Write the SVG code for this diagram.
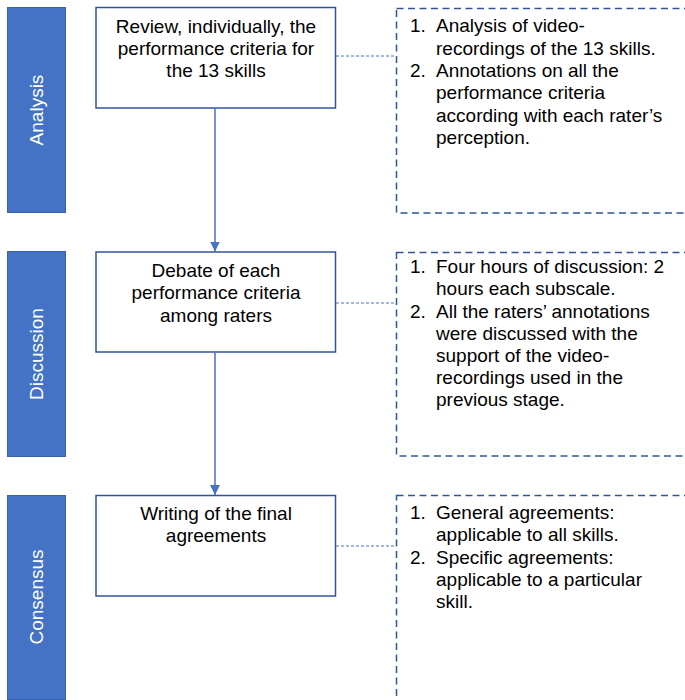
<svg xmlns="http://www.w3.org/2000/svg" width="685" height="700" viewBox="0 0 685 700">
<style>
.bar{fill:#4472C4;stroke:#3A62A8;stroke-width:1}
.bartxt{fill:#fff;font-family:"Liberation Sans",Arial,sans-serif;font-size:19px;text-anchor:middle}
.box{fill:#fff;stroke:#2F5597;stroke-width:1.5}
.note{fill:none;stroke:#2F5597;stroke-width:1.5;stroke-dasharray:7 4.5}
.txt{fill:#000;font-family:"Liberation Sans",Arial,sans-serif;font-size:19px}
.c{text-anchor:middle}
.link{stroke:#4472C4;stroke-width:1;stroke-dasharray:3 2;fill:none}
.arrow{stroke:#4472C4;stroke-width:1.5;fill:none}
</style>
<defs>
<marker id="ah" viewBox="0 0 10 10" refX="10" refY="5" markerWidth="10" markerHeight="11" orient="auto" markerUnits="userSpaceOnUse">
<path d="M0,0 L10,5 L0,10 Z" fill="#4472C4"/>
</marker>
</defs>
<g id="bar-analysis">
<rect class="bar" x="7.5" y="7.5" width="58" height="205"/>
<text class="bartxt" transform="translate(43,110) rotate(-90)">Analysis</text>
</g>
<g id="bar-discussion">
<rect class="bar" x="7.5" y="251.5" width="58" height="205"/>
<text class="bartxt" transform="translate(43,354) rotate(-90)">Discussion</text>
</g>
<g id="bar-consensus">
<rect class="bar" x="7.5" y="495.5" width="58" height="204"/>
<text class="bartxt" transform="translate(43,597) rotate(-90)">Consensus</text>
</g>
<g id="box-review">
<rect class="box" x="96" y="7.5" width="239.5" height="100.5"/>
<text class="txt c" x="216" y="33">Review, individually, the</text>
<text class="txt c" x="216" y="55">performance criteria for</text>
<text class="txt c" x="216" y="77">the 13 skills</text>
</g>
<g id="box-debate">
<rect class="box" x="96" y="252" width="239.5" height="100"/>
<text class="txt c" x="216" y="277">Debate of each</text>
<text class="txt c" x="216" y="299">performance criteria</text>
<text class="txt c" x="216" y="321.5">among raters</text>
</g>
<g id="box-writing">
<rect class="box" x="96" y="495.5" width="239.5" height="100.5"/>
<text class="txt c" x="216" y="520">Writing of the final</text>
<text class="txt c" x="216" y="542">agreements</text>
</g>
<g id="note-analysis">
<rect class="note" x="396.5" y="8.5" width="300" height="204.5"/>
<text class="txt" x="410" y="32">1.</text>
<text class="txt" x="436" y="32">Analysis of video-</text>
<text class="txt" x="436" y="54.5">recordings of the 13 skills.</text>
<text class="txt" x="410" y="77">2.</text>
<text class="txt" x="436" y="77">Annotations on all the</text>
<text class="txt" x="436" y="99">performance criteria</text>
<text class="txt" x="436" y="121.5">according with each rater’s</text>
<text class="txt" x="436" y="143.5">perception.</text>
</g>
<g id="note-discussion">
<rect class="note" x="396.5" y="252.5" width="300" height="203.5"/>
<text class="txt" x="410" y="273">1.</text>
<text class="txt" x="436" y="273">Four hours of discussion: 2</text>
<text class="txt" x="436" y="295">hours each subscale.</text>
<text class="txt" x="410" y="317.5">2.</text>
<text class="txt" x="436" y="317.5">All the raters’ annotations</text>
<text class="txt" x="436" y="339.5">were discussed with the</text>
<text class="txt" x="436" y="362">support of the video-</text>
<text class="txt" x="436" y="384">recordings used in the</text>
<text class="txt" x="436" y="406">previous stage.</text>
</g>
<g id="note-consensus">
<rect class="note" x="396.5" y="495.5" width="300" height="220"/>
<text class="txt" x="410" y="519">1.</text>
<text class="txt" x="436" y="519">General agreements:</text>
<text class="txt" x="436" y="541">applicable to all skills.</text>
<text class="txt" x="410" y="563.5">2.</text>
<text class="txt" x="436" y="563.5">Specific agreements:</text>
<text class="txt" x="436" y="585.5">applicable to a particular</text>
<text class="txt" x="436" y="608">skill.</text>
</g>
<g id="connectors">
<line class="arrow" x1="215" y1="108.5" x2="215" y2="251.5" marker-end="url(#ah)"/>
<line class="arrow" x1="215" y1="352.5" x2="215" y2="495" marker-end="url(#ah)"/>
<line class="link" x1="336" y1="56" x2="396" y2="56"/>
<line class="link" x1="336" y1="303" x2="396" y2="303"/>
<line class="link" x1="336" y1="546" x2="396" y2="546"/>
</g>
</svg>
